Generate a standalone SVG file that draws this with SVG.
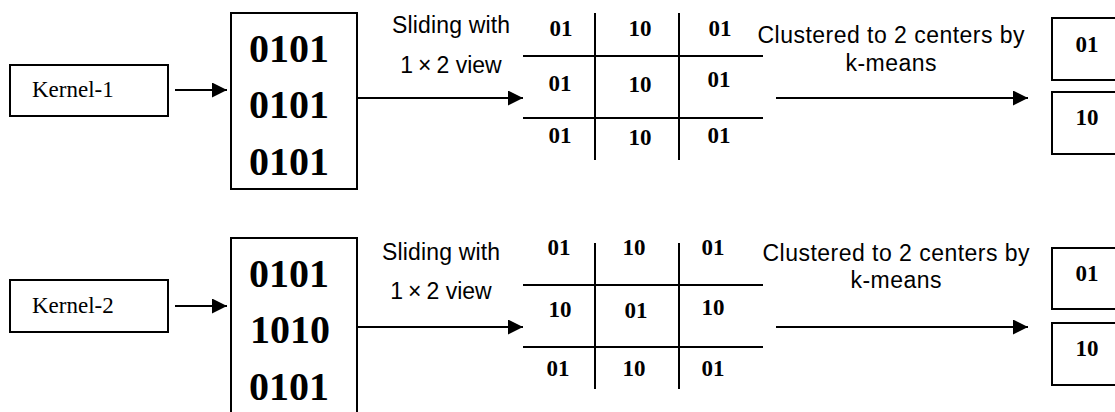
<svg xmlns="http://www.w3.org/2000/svg" width="1115" height="412" viewBox="0 0 1115 412">
<style>
.box{fill:#fff;stroke:#000;stroke-width:2}
.ln{fill:none;stroke:#000;stroke-width:2}
.k{font-family:"Liberation Serif","Times New Roman",serif;font-size:23px;fill:#000}
.big{font-family:"Liberation Serif","Times New Roman",serif;font-size:40px;font-weight:bold;fill:#000;text-anchor:middle}
.cell{font-family:"Liberation Serif","Times New Roman",serif;font-size:23px;font-weight:bold;fill:#000;text-anchor:middle}
.lab{font-family:"Liberation Sans",Arial,"Noto Sans CJK SC",sans-serif;font-size:23px;fill:#000;text-anchor:middle}
</style>
<defs>
<marker id="ah" markerUnits="userSpaceOnUse" markerWidth="16" markerHeight="16" refX="15" refY="7.5" orient="auto">
<path d="M0,0 L15,7.5 L0,15 z" fill="#000"/>
</marker>
</defs>

<g id="kernel1"><rect class="box" x="10" y="65" width="158" height="51"/><text class="k" x="32" y="97">Kernel-1</text></g>
<g id="matrix1"><rect class="box" x="231" y="13" width="126" height="176"/>
<text class="big" x="289" y="62">0101</text><text class="big" x="289" y="118">0101</text><text class="big" x="289" y="175">0101</text></g>
<g id="grid1">
<line class="ln" x1="595" y1="13" x2="595" y2="160"/><line class="ln" x1="679" y1="13" x2="679" y2="160"/>
<line class="ln" x1="523" y1="56" x2="763" y2="56"/><line class="ln" x1="523" y1="118" x2="763" y2="118"/>
<text class="cell" x="561" y="36">01</text><text class="cell" x="640" y="36">10</text><text class="cell" x="720" y="36">01</text>
<text class="cell" x="560" y="91">01</text><text class="cell" x="640" y="92">10</text><text class="cell" x="719" y="87">01</text>
<text class="cell" x="560" y="143">01</text><text class="cell" x="640" y="145">10</text><text class="cell" x="719" y="143">01</text>
</g>
<g id="centers1">
<rect class="box" x="1052" y="18" width="80" height="62"/><text class="cell" x="1087" y="52">01</text>
<rect class="box" x="1052" y="92" width="80" height="62"/><text class="cell" x="1087" y="125">10</text>
</g>

<g id="kernel2"><rect class="box" x="10" y="280" width="158" height="52"/><text class="k" x="32" y="313">Kernel-2</text></g>
<g id="matrix2"><rect class="box" x="231" y="238" width="126" height="190"/>
<text class="big" x="289" y="287">0101</text><text class="big" x="290" y="343">1010</text><text class="big" x="289" y="400">0101</text></g>
<g id="grid2">
<line class="ln" x1="595" y1="243" x2="595" y2="389"/><line class="ln" x1="679" y1="243" x2="679" y2="389"/>
<line class="ln" x1="523" y1="285" x2="763" y2="285"/><line class="ln" x1="523" y1="347" x2="763" y2="347"/>
<text class="cell" x="559" y="255">01</text><text class="cell" x="634" y="255">10</text><text class="cell" x="713" y="255">01</text>
<text class="cell" x="560" y="317">10</text><text class="cell" x="636" y="318">01</text><text class="cell" x="713" y="315">10</text>
<text class="cell" x="558" y="376">01</text><text class="cell" x="634" y="376">10</text><text class="cell" x="713" y="376">01</text>
</g>
<g id="centers2">
<rect class="box" x="1052" y="248" width="80" height="61"/><text class="cell" x="1087" y="281">01</text>
<rect class="box" x="1052" y="323" width="80" height="62"/><text class="cell" x="1087" y="356">10</text>
</g>

<g id="connectors">
<line class="ln" x1="175" y1="90" x2="227" y2="90" marker-end="url(#ah)"/>
<line class="ln" x1="357" y1="98" x2="523" y2="98" marker-end="url(#ah)"/>
<line class="ln" x1="776" y1="98" x2="1028" y2="98" marker-end="url(#ah)"/>
<line class="ln" x1="175" y1="306" x2="227" y2="306" marker-end="url(#ah)"/>
<line class="ln" x1="357" y1="327" x2="523" y2="327" marker-end="url(#ah)"/>
<line class="ln" x1="776" y1="327" x2="1028" y2="327" marker-end="url(#ah)"/>
<text class="lab" x="451" y="33" textLength="118">Sliding with</text>
<text class="lab" x="451" y="73">1<tspan dx="5">×</tspan><tspan dx="5">2 view</tspan></text>
<text class="lab" x="891" y="43" textLength="267">Clustered to 2 centers by</text>
<text class="lab" x="891" y="71" textLength="91">k-means</text>
<text class="lab" x="441" y="260" textLength="118">Sliding with</text>
<text class="lab" x="441" y="299">1<tspan dx="5">×</tspan><tspan dx="5">2 view</tspan></text>
<text class="lab" x="896" y="261" textLength="267">Clustered to 2 centers by</text>
<text class="lab" x="896" y="288" textLength="91">k-means</text>
</g>
</svg>
